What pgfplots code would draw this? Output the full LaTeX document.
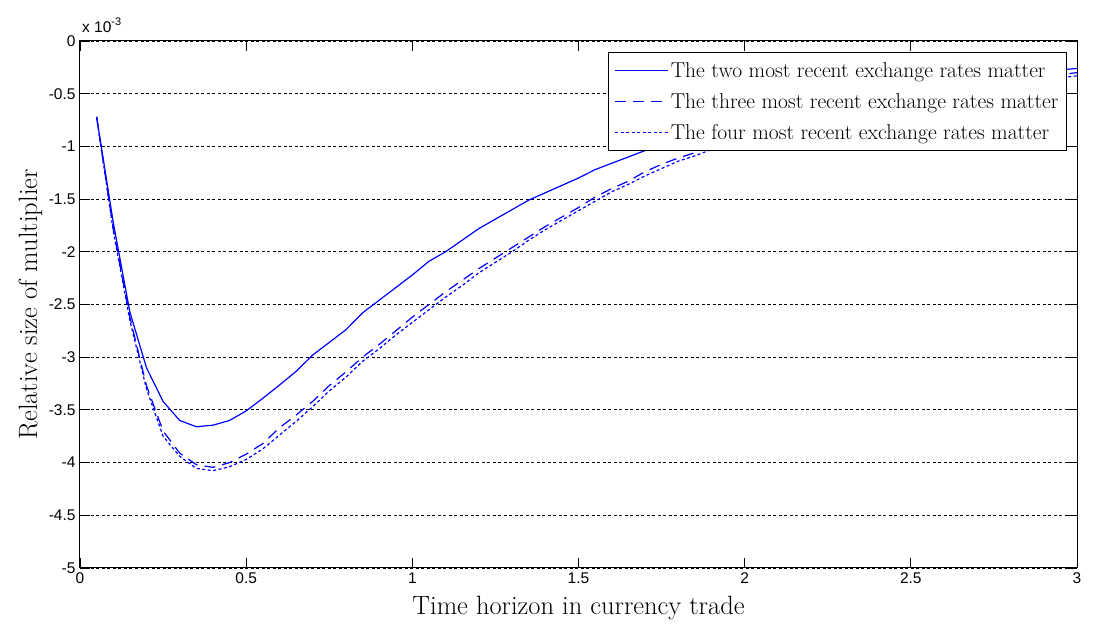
\documentclass[border=0pt]{standalone}
\usepackage{fontspec}
\usepackage{pgfplots}
\pgfplotsset{compat=1.18}
\newfontfamily\ticksans{Liberation Sans}
\definecolor{lineblue}{RGB}{0,0,255}

\pgfplotstableread{
x     two     three   four
0.05  -0.72   -0.72   -0.72
0.10  -1.72   -1.78   -1.80
0.15  -2.57   -2.62   -2.65
0.20  -3.10   -3.27   -3.30
0.25  -3.42   -3.70   -3.75
0.30  -3.60   -3.91   -3.94
0.35  -3.66   -4.02   -4.055
0.40  -3.645  -4.045  -4.077
0.45  -3.60   -4.00   -4.04
0.50  -3.51   -3.92   -3.97
0.55  -3.39   -3.82   -3.87
0.60  -3.265  -3.67   -3.74
0.65  -3.135  -3.55   -3.61
0.70  -2.98   -3.42   -3.47
0.75  -2.86   -3.27   -3.32
0.80  -2.74   -3.14   -3.19
0.85  -2.58   -3.00   -3.04
0.90  -2.46   -2.88   -2.92
0.95  -2.34   -2.75   -2.79
1.00  -2.22   -2.62   -2.67
1.05  -2.09   -2.50   -2.55
1.10  -2.00   -2.38   -2.43
1.15  -1.89   -2.27   -2.32
1.20  -1.78   -2.16   -2.20
1.25  -1.69   -2.06   -2.10
1.30  -1.60   -1.96   -2.00
1.35  -1.51   -1.86   -1.89
1.40  -1.44   -1.76   -1.79
1.45  -1.37   -1.67   -1.70
1.50  -1.30   -1.58   -1.61
1.55  -1.22   -1.48   -1.52
1.60  -1.16   -1.40   -1.43
1.65  -1.10   -1.33   -1.36
1.70  -1.04   -1.24   -1.28
1.75  -0.99   -1.17   -1.21
1.80  -0.94   -1.11   -1.14
1.85  -0.89   -1.06   -1.09
1.90  -0.85   -1.00   -1.03
2.00  -0.77   -0.90   -0.93
2.20  -0.62   -0.74   -0.77
2.40  -0.50   -0.60   -0.63
2.60  -0.40   -0.48   -0.51
2.80  -0.32   -0.38   -0.41
3.00  -0.26   -0.30   -0.33
}\multtable

\begin{document}
\begin{tikzpicture}
\begin{axis}[
    scale only axis,
    width=997pt, height=527pt,
    xmin=0, xmax=3, ymin=-5, ymax=0,
    clip=false,
    xtick={0,0.5,1,1.5,2,2.5,3},
    xticklabels={0,0.5,1,1.5,2,2.5,3},
    ytick={-5,-4.5,-4,-3.5,-3,-2.5,-2,-1.5,-1,-0.5,0},
    yticklabels={-5,-4.5,-4,-3.5,-3,-2.5,-2,-1.5,-1,-0.5,0},
    ticklabel style={font=\ticksans\fontsize{15.5}{18}\selectfont},
    xticklabel style={yshift=-1pt},
    yticklabel style={xshift=-1pt},
    tick align=inside,
    major tick length=10pt,
    tick style={black, line width=0.8pt},
    axis line style={black, line width=1pt},
    ymajorgrids=true,
    grid style={black, line width=0.8pt, dash pattern=on 3pt off 2.5pt},
    xlabel={Time horizon in currency trade},
    ylabel={Relative size of multiplier},
    label style={font=\fontsize{26.5}{30}\selectfont},
    xlabel style={at={(axis description cs:0.5,-0.0873)}, anchor=base},
    ylabel style={at={(axis description cs:-0.0431,0.5)}, anchor=base, rotate=0},
    legend style={
        at={(rel axis cs:0.990,0.979)}, anchor=north east,
        draw=black, line width=1pt, fill=white,
        font=\fontsize{21.5}{24}\selectfont,
        inner xsep=6pt, inner ysep=8pt,
        row sep=10.5pt,
        cells={anchor=west},
    },
    legend image code/.code={\draw[#1, line width=1.3pt] (0pt,0pt) -- (53pt,0pt);},
]
\addplot[color=lineblue, line width=1.2pt] table[x=x, y=two] {\multtable};
\addlegendentry{The two most recent exchange rates matter}
\addplot[color=lineblue, line width=1.2pt, dash pattern=on 11pt off 7pt] table[x=x, y=three] {\multtable};
\addlegendentry{The three most recent exchange rates matter}
\addplot[color=lineblue, line width=1.2pt, dash pattern=on 3pt off 2.5pt] table[x=x, y=four] {\multtable};
\addlegendentry{The four most recent exchange rates matter}

\coordinate (bl) at (rel axis cs:0,0);
\coordinate (tr) at (rel axis cs:1,1);
\node[anchor=base west, font=\ticksans\fontsize{15.5}{18}\selectfont, inner sep=0pt]
    at (rel axis cs:0.002,1.017) {x 10\raisebox{0.45em}{\fontsize{11}{11}\selectfont -3}};
\end{axis}
\pgfresetboundingbox
\path[use as bounding box] ([shift={(-80pt,-60pt)}]bl) rectangle ([shift={(25pt,41pt)}]tr);
\end{tikzpicture}
\end{document}
